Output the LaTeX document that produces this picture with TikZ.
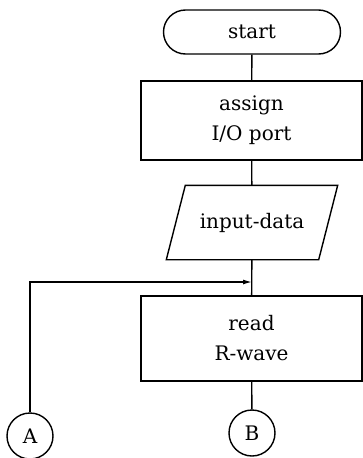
\documentclass[tikz,border=0pt]{standalone}
\usepackage{fontspec}
\setmainfont{DejaVu Serif}
\usetikzlibrary{arrows.meta}

\tikzset{
  chartfont/.style={font=\fontsize{20}{30}\selectfont},
  terminal/.style={draw, chartfont, rounded corners=22pt, minimum width=177pt, minimum height=44pt},
  procbox/.style={draw, chartfont, align=center, minimum width=221pt},
  iobox/.style={chartfont, minimum width=151pt, minimum height=73pt},
  connector/.style={draw, circle, chartfont, minimum size=46pt, inner sep=0pt}
}

\begin{document}
\begin{tikzpicture}[x=1pt,y=-1pt,line width=1.4pt]
    \useasboundingbox (0,0) rectangle (363,458);
    \node[terminal] (start) at (252,32) {start};
    \node[procbox, minimum height=79pt] (assign) at (251.5,120.5) {assign\\I/O port};
    \node[iobox] (input) at (252,222.5) {input-data};
    \draw ([xshift=-9.5pt]input.south west) -- ([xshift=9.5pt]input.north west)
      -- ([xshift=9.5pt]input.north east) -- ([xshift=-9.5pt]input.south east) -- cycle;
    \node[procbox, minimum height=85pt] (read) at (251.5,338.5) {read\\R-wave};
    \node[connector] (A) at (30,436) {A};
    \node[connector] (B) at (252,433) {B};
    \coordinate (merge) at (252,282);
\draw (start) -- (assign);
\draw (assign) -- (input);
\draw (input) -- (read);
\draw (read) -- (B);
\draw[-{Latex[length=9pt,width=5pt]}] (A) |- (merge);
\end{tikzpicture}
\end{document}
